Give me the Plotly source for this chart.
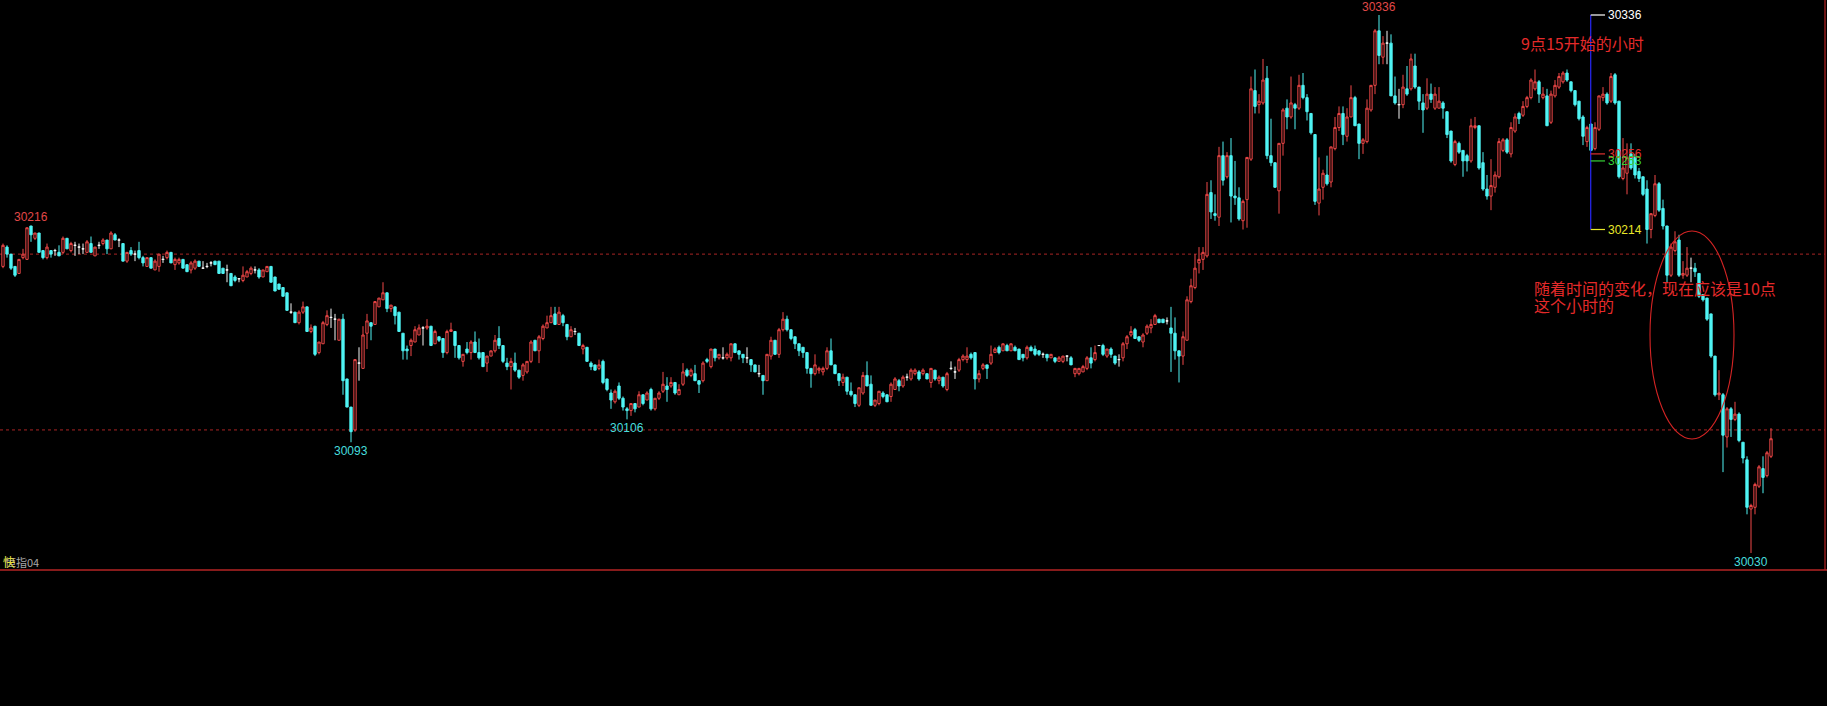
import plotly.graph_objects as go

# ---------------- data ----------------
opens = [
    30193, 30204, 30200, 30193, 30189, 30198, 30197, 30216, 30209, 30212,
    30202, 30198, 30202, 30202, 30201, 30201, 30209, 30202, 30205, 30204,
    30203, 30201, 30206, 30199, 30205, 30206, 30208, 30203, 30211, 30208,
    30206, 30196, 30202, 30200, 30202, 30198, 30193, 30198, 30191, 30193,
    30197, 30198, 30201, 30194, 30195, 30197, 30194, 30191, 30192, 30196,
    30192, 30193, 30195, 30196, 30196, 30192, 30191, 30189, 30187, 30186,
    30185, 30187, 30189, 30191, 30191, 30187, 30190, 30193, 30187, 30183,
    30181, 30178, 30167, 30167, 30161, 30167, 30170, 30156, 30159, 30144,
    30149, 30160, 30164, 30163, 30151, 30163, 30129, 30113, 30100, 30138,
    30135, 30155, 30161, 30160, 30170, 30174, 30178, 30169, 30170, 30167,
    30155, 30146, 30148, 30150, 30154, 30158, 30158, 30159, 30149, 30153,
    30152, 30144, 30156, 30156, 30148, 30139, 30146, 30144, 30150, 30144,
    30144, 30138, 30142, 30145, 30152, 30148, 30138, 30136, 30138, 30134,
    30131, 30133, 30139, 30151, 30145, 30152, 30158, 30161, 30166, 30160,
    30165, 30160, 30153, 30156, 30155, 30146, 30147, 30138, 30137, 30135,
    30139, 30129, 30121, 30116, 30125, 30118, 30112, 30111, 30115, 30113,
    30120, 30117, 30123, 30112, 30118, 30122, 30125, 30125, 30127, 30120,
    30126, 30134, 30131, 30132, 30128, 30128, 30140, 30136, 30146, 30141,
    30141, 30141, 30141, 30149, 30145, 30143, 30141, 30140, 30137, 30132,
    30131, 30128, 30142, 30151, 30143, 30157, 30163, 30157, 30153, 30149,
    30147, 30144, 30135, 30132, 30134, 30133, 30135, 30145, 30137, 30132,
    30127, 30130, 30122, 30120, 30114, 30121, 30131, 30126, 30114, 30115,
    30121, 30120, 30119, 30123, 30128, 30125, 30130, 30129, 30132, 30133,
    30132, 30132, 30127, 30134, 30128, 30130, 30123, 30135, 30133, 30134,
    30140, 30140, 30143, 30144, 30129, 30135, 30137, 30138, 30144, 30147,
    30145, 30148, 30145, 30147, 30146, 30143, 30141, 30147, 30146, 30145,
    30143, 30143, 30141, 30141, 30139, 30139, 30142, 30141, 30132, 30132,
    30133, 30135, 30141, 30140, 30148, 30148, 30142, 30146, 30142, 30140,
    30141, 30149, 30154, 30157, 30153, 30150, 30155, 30158, 30160, 30163,
    30163, 30162, 30158, 30155, 30145, 30142, 30151, 30173, 30181, 30195,
    30197, 30199, 30235, 30223, 30221, 30256, 30244, 30256, 30233, 30232,
    30219, 30231, 30254, 30293, 30285, 30286, 30300, 30256, 30252, 30236,
    30263, 30283, 30278, 30285, 30283, 30296, 30289, 30280, 30268, 30229,
    30238, 30245, 30241, 30260, 30272, 30280, 30267, 30278, 30289, 30274,
    30263, 30264, 30282, 30296, 30327, 30312, 30320, 30320, 30290, 30285,
    30285, 30294, 30294, 30307, 30295, 30286, 30283, 30291, 30283, 30283,
    30286, 30281, 30270, 30251, 30263, 30259, 30256, 30253, 30272, 30273,
    30252, 30237, 30233, 30238, 30244, 30259, 30265, 30257, 30270, 30280,
    30279, 30284, 30289, 30294, 30298, 30289, 30290, 30275, 30290, 30295,
    30298, 30303, 30298, 30293, 30287, 30278, 30264, 30274, 30260, 30271,
    30289, 30291, 30287, 30302, 30287, 30243, 30246, 30257, 30255, 30247,
    30244, 30237, 30214, 30222, 30240, 30226, 30216, 30188, 30202, 30208,
    30188, 30188, 30192, 30192, 30189, 30177, 30175, 30166, 30142, 30120,
    30120, 30096, 30112, 30106, 30109, 30093, 30083, 30055, 30056, 30068,
    30078, 30074, 30085,
]
highs = [
    30206, 30205, 30200, 30193, 30197, 30203, 30215, 30216, 30212, 30212,
    30202, 30206, 30202, 30203, 30205, 30210, 30209, 30207, 30207, 30206,
    30206, 30208, 30210, 30204, 30207, 30209, 30208, 30213, 30212, 30209,
    30206, 30201, 30204, 30202, 30207, 30199, 30198, 30198, 30197, 30200,
    30199, 30202, 30201, 30198, 30198, 30197, 30194, 30196, 30197, 30196,
    30196, 30195, 30196, 30196, 30196, 30192, 30194, 30189, 30188, 30186,
    30193, 30191, 30193, 30193, 30192, 30191, 30193, 30193, 30187, 30183,
    30181, 30178, 30172, 30167, 30168, 30173, 30170, 30160, 30159, 30150,
    30162, 30168, 30169, 30166, 30163, 30166, 30129, 30113, 30140, 30147,
    30159, 30166, 30161, 30173, 30175, 30184, 30178, 30171, 30170, 30167,
    30155, 30148, 30152, 30159, 30160, 30159, 30163, 30159, 30157, 30153,
    30152, 30157, 30161, 30156, 30148, 30143, 30150, 30151, 30156, 30152,
    30144, 30142, 30145, 30154, 30159, 30148, 30141, 30141, 30144, 30134,
    30138, 30139, 30151, 30151, 30154, 30160, 30165, 30170, 30170, 30170,
    30166, 30160, 30159, 30158, 30155, 30149, 30147, 30139, 30137, 30140,
    30140, 30129, 30123, 30123, 30127, 30119, 30113, 30115, 30115, 30122,
    30120, 30122, 30124, 30118, 30122, 30133, 30130, 30130, 30127, 30126,
    30138, 30135, 30135, 30137, 30128, 30139, 30141, 30146, 30146, 30143,
    30147, 30144, 30149, 30149, 30145, 30143, 30147, 30140, 30137, 30137,
    30131, 30143, 30153, 30151, 30158, 30167, 30165, 30157, 30153, 30149,
    30147, 30144, 30135, 30143, 30136, 30136, 30147, 30152, 30137, 30132,
    30132, 30130, 30127, 30120, 30124, 30133, 30139, 30131, 30117, 30122,
    30122, 30120, 30127, 30130, 30129, 30131, 30132, 30135, 30135, 30134,
    30135, 30132, 30135, 30134, 30131, 30130, 30133, 30139, 30136, 30141,
    30143, 30147, 30144, 30144, 30134, 30138, 30137, 30148, 30147, 30148,
    30149, 30149, 30149, 30148, 30146, 30143, 30148, 30148, 30148, 30145,
    30144, 30143, 30143, 30141, 30142, 30142, 30142, 30142, 30135, 30135,
    30137, 30142, 30147, 30148, 30148, 30149, 30146, 30147, 30142, 30143,
    30150, 30154, 30159, 30158, 30153, 30155, 30160, 30163, 30166, 30163,
    30163, 30164, 30170, 30164, 30145, 30156, 30176, 30186, 30200, 30204,
    30204, 30241, 30242, 30234, 30261, 30264, 30258, 30266, 30253, 30238,
    30231, 30255, 30301, 30305, 30291, 30311, 30307, 30277, 30252, 30263,
    30283, 30288, 30301, 30286, 30302, 30303, 30291, 30280, 30268, 30255,
    30248, 30256, 30261, 30278, 30284, 30284, 30283, 30296, 30290, 30274,
    30266, 30288, 30296, 30328, 30336, 30324, 30327, 30325, 30301, 30294,
    30302, 30307, 30314, 30314, 30295, 30291, 30300, 30297, 30295, 30295,
    30287, 30281, 30270, 30265, 30264, 30259, 30257, 30277, 30278, 30273,
    30258, 30245, 30254, 30247, 30266, 30266, 30266, 30275, 30280, 30281,
    30287, 30290, 30300, 30305, 30299, 30295, 30294, 30293, 30299, 30303,
    30304, 30305, 30298, 30293, 30287, 30279, 30273, 30274, 30275, 30290,
    30295, 30292, 30303, 30303, 30287, 30266, 30263, 30263, 30257, 30249,
    30244, 30242, 30223, 30245, 30241, 30231, 30216, 30206, 30213, 30211,
    30196, 30204, 30198, 30195, 30189, 30177, 30175, 30166, 30142, 30134,
    30121, 30113, 30113, 30116, 30110, 30093, 30085, 30058, 30070, 30080,
    30085, 30088, 30101,
]
lows = [
    30192, 30198, 30191, 30187, 30189, 30197, 30197, 30207, 30208, 30201,
    30197, 30197, 30198, 30199, 30199, 30200, 30203, 30201, 30199, 30200,
    30200, 30201, 30201, 30199, 30203, 30205, 30200, 30203, 30208, 30204,
    30196, 30195, 30199, 30196, 30197, 30193, 30193, 30192, 30191, 30190,
    30195, 30197, 30195, 30191, 30194, 30192, 30190, 30189, 30191, 30193,
    30192, 30192, 30193, 30194, 30189, 30189, 30184, 30182, 30184, 30184,
    30184, 30187, 30188, 30189, 30186, 30187, 30190, 30184, 30179, 30180,
    30176, 30168, 30166, 30161, 30160, 30166, 30156, 30155, 30142, 30143,
    30149, 30159, 30158, 30151, 30151, 30120, 30113, 30093, 30099, 30128,
    30135, 30146, 30151, 30160, 30170, 30174, 30167, 30167, 30160, 30156,
    30140, 30140, 30142, 30150, 30154, 30148, 30157, 30148, 30149, 30150,
    30141, 30143, 30156, 30141, 30140, 30136, 30143, 30140, 30144, 30140,
    30136, 30133, 30142, 30144, 30146, 30138, 30134, 30123, 30133, 30129,
    30128, 30132, 30138, 30145, 30138, 30151, 30158, 30161, 30160, 30160,
    30159, 30151, 30153, 30154, 30148, 30143, 30139, 30134, 30134, 30134,
    30126, 30122, 30112, 30115, 30117, 30111, 30106, 30108, 30110, 30113,
    30114, 30117, 30111, 30111, 30117, 30121, 30116, 30124, 30120, 30120,
    30125, 30130, 30130, 30128, 30121, 30127, 30138, 30135, 30139, 30140,
    30140, 30140, 30139, 30144, 30140, 30138, 30138, 30133, 30133, 30130,
    30120, 30128, 30140, 30143, 30141, 30156, 30156, 30151, 30146, 30142,
    30141, 30132, 30124, 30131, 30132, 30131, 30134, 30137, 30132, 30125,
    30125, 30120, 30119, 30113, 30113, 30120, 30125, 30114, 30113, 30114,
    30118, 30116, 30116, 30123, 30122, 30124, 30128, 30128, 30131, 30128,
    30131, 30129, 30124, 30128, 30126, 30124, 30122, 30134, 30129, 30133,
    30139, 30138, 30140, 30123, 30127, 30134, 30129, 30137, 30144, 30143,
    30145, 30145, 30145, 30145, 30140, 30139, 30140, 30145, 30142, 30142,
    30141, 30139, 30141, 30138, 30139, 30138, 30139, 30137, 30130, 30131,
    30133, 30134, 30135, 30139, 30148, 30142, 30141, 30141, 30137, 30136,
    30139, 30146, 30153, 30152, 30150, 30147, 30154, 30155, 30160, 30161,
    30161, 30160, 30133, 30140, 30127, 30137, 30151, 30172, 30180, 30189,
    30191, 30198, 30220, 30219, 30216, 30239, 30243, 30218, 30228, 30219,
    30214, 30215, 30253, 30280, 30280, 30285, 30254, 30250, 30238, 30223,
    30256, 30271, 30277, 30271, 30282, 30288, 30276, 30268, 30228, 30222,
    30231, 30239, 30238, 30259, 30270, 30262, 30264, 30278, 30273, 30254,
    30257, 30263, 30281, 30291, 30308, 30308, 30308, 30290, 30285, 30277,
    30283, 30290, 30293, 30294, 30282, 30269, 30282, 30286, 30282, 30283,
    30277, 30266, 30252, 30250, 30257, 30244, 30247, 30252, 30271, 30248,
    30236, 30231, 30225, 30235, 30243, 30258, 30257, 30255, 30269, 30274,
    30278, 30283, 30288, 30293, 30286, 30288, 30273, 30274, 30289, 30294,
    30297, 30298, 30292, 30284, 30276, 30262, 30261, 30259, 30259, 30270,
    30287, 30285, 30286, 30285, 30243, 30242, 30234, 30248, 30243, 30241,
    30233, 30206, 30209, 30221, 30224, 30214, 30184, 30187, 30201, 30187,
    30186, 30187, 30184, 30187, 30175, 30173, 30162, 30141, 30119, 30117,
    30076, 30090, 30096, 30105, 30093, 30081, 30052, 30030, 30052, 30067,
    30064, 30073, 30084,
]
closes = [
    30205, 30200, 30192, 30188, 30197, 30200, 30215, 30211, 30212, 30201,
    30198, 30204, 30200, 30202, 30199, 30209, 30203, 30206, 30205, 30204,
    30203, 30207, 30201, 30204, 30205, 30208, 30203, 30212, 30208, 30208,
    30196, 30201, 30200, 30200, 30198, 30195, 30198, 30192, 30196, 30200,
    30197, 30201, 30195, 30197, 30197, 30192, 30190, 30195, 30196, 30193,
    30192, 30193, 30195, 30194, 30189, 30189, 30191, 30182, 30185, 30186,
    30188, 30190, 30192, 30191, 30187, 30191, 30193, 30184, 30179, 30180,
    30176, 30168, 30167, 30161, 30167, 30170, 30156, 30158, 30143, 30150,
    30161, 30165, 30164, 30163, 30163, 30128, 30113, 30099, 30140, 30138,
    30154, 30162, 30159, 30173, 30175, 30178, 30169, 30171, 30165, 30156,
    30145, 30145, 30151, 30157, 30158, 30158, 30159, 30148, 30156, 30151,
    30144, 30156, 30157, 30148, 30141, 30143, 30144, 30150, 30144, 30141,
    30136, 30142, 30145, 30151, 30148, 30139, 30136, 30139, 30134, 30130,
    30137, 30139, 30150, 30145, 30153, 30159, 30161, 30165, 30160, 30167,
    30161, 30153, 30157, 30156, 30148, 30148, 30139, 30136, 30134, 30137,
    30127, 30123, 30117, 30122, 30118, 30113, 30111, 30115, 30112, 30120,
    30115, 30121, 30112, 30118, 30121, 30126, 30123, 30127, 30121, 30123,
    30133, 30131, 30134, 30128, 30126, 30138, 30139, 30146, 30141, 30143,
    30141, 30143, 30149, 30144, 30143, 30141, 30141, 30137, 30133, 30132,
    30128, 30143, 30151, 30143, 30157, 30163, 30157, 30152, 30149, 30145,
    30144, 30135, 30132, 30137, 30135, 30135, 30145, 30137, 30132, 30128,
    30130, 30122, 30120, 30115, 30124, 30131, 30125, 30114, 30117, 30122,
    30119, 30116, 30126, 30129, 30125, 30130, 30130, 30134, 30134, 30129,
    30134, 30129, 30135, 30129, 30130, 30125, 30132, 30135, 30133, 30140,
    30142, 30142, 30141, 30129, 30132, 30137, 30135, 30143, 30146, 30144,
    30149, 30145, 30149, 30145, 30140, 30141, 30147, 30145, 30143, 30143,
    30143, 30141, 30143, 30139, 30141, 30142, 30142, 30137, 30135, 30135,
    30136, 30141, 30138, 30144, 30148, 30143, 30146, 30143, 30138, 30140,
    30149, 30153, 30156, 30152, 30151, 30154, 30159, 30160, 30165, 30161,
    30161, 30162, 30155, 30145, 30142, 30153, 30174, 30182, 30192, 30197,
    30201, 30234, 30224, 30222, 30256, 30242, 30256, 30233, 30232, 30220,
    30230, 30255, 30294, 30284, 30287, 30299, 30256, 30252, 30238, 30263,
    30282, 30278, 30286, 30283, 30296, 30289, 30281, 30269, 30230, 30237,
    30246, 30240, 30261, 30272, 30280, 30268, 30278, 30289, 30273, 30263,
    30265, 30283, 30296, 30327, 30313, 30320, 30320, 30290, 30286, 30285,
    30295, 30291, 30311, 30295, 30287, 30282, 30291, 30288, 30291, 30287,
    30283, 30268, 30253, 30264, 30258, 30253, 30253, 30273, 30273, 30249,
    30237, 30233, 30239, 30245, 30264, 30265, 30258, 30272, 30278, 30277,
    30284, 30289, 30299, 30298, 30291, 30291, 30273, 30291, 30296, 30301,
    30303, 30299, 30293, 30285, 30277, 30267, 30272, 30259, 30272, 30290,
    30291, 30286, 30301, 30286, 30244, 30249, 30255, 30249, 30245, 30243,
    30234, 30214, 30223, 30240, 30225, 30216, 30188, 30204, 30207, 30188,
    30189, 30192, 30192, 30190, 30176, 30174, 30163, 30142, 30120, 30121,
    30097, 30112, 30106, 30109, 30094, 30084, 30056, 30057, 30069, 30079,
    30073, 30087, 30095,
]

grid_levels = [30200, 30100]
tool_levels = [30336, 30257, 30253, 30214]
tool_labels = ["30336", "30256", "30253", "30214"]
note_top = "9点15开始的小时"
note_lines = ["随着时间的变化，现在应该是10点", "这个小时的"]
corner_label = "恒指04"

# ---------------- geometry / style ----------------
W, H = 1827, 706
PLOT_H = 570
PX_PER_PT = 538 / 306.0
Y_TOP = 30336 + 15 / PX_PER_PT
Y_BOT = 30336 - (PLOT_H - 15) / PX_PER_PT

UP = "#f04848"
DN = "#50f4f4"
DOJI = "#f4f4f4"
GRID = "#a82424"
FRAME = "#b42424"
TXT_RED = "#e42a2a"
NUM_FONT = "Liberation Sans, Arial, sans-serif"
CJK_FONT = "Noto Sans CJK SC, sans-serif"


def px(x):
    return x / W


def py(y):
    return (PLOT_H - y) / PLOT_H


n = len(opens)
idx_all = list(range(n))
groups = [
    ([i for i in idx_all if closes[i] > opens[i]], UP, "#000000"),
    ([i for i in idx_all if closes[i] < opens[i]], DN, DN),
    ([i for i in idx_all if closes[i] == opens[i]], DOJI, DOJI),
]

fig = go.Figure()
for idx, col, fill in groups:
    fig.add_trace(go.Candlestick(
        x=idx,
        open=[opens[i] for i in idx],
        high=[highs[i] for i in idx],
        low=[lows[i] for i in idx],
        close=[closes[i] for i in idx],
        increasing=dict(line=dict(color=col, width=1), fillcolor=fill),
        decreasing=dict(line=dict(color=col, width=1), fillcolor=fill),
        whiskerwidth=0,
        showlegend=False,
        hoverinfo="skip",
    ))

shapes = []
for lv in grid_levels:
    shapes.append(dict(type="line", xref="paper", yref="y", x0=0, x1=px(1825),
                       y0=lv, y1=lv, line=dict(color=GRID, width=1, dash="dot"),
                       layer="below"))
shapes.append(dict(type="line", xref="paper", yref="paper", x0=0, x1=1, y0=0, y1=0,
                   line=dict(color=FRAME, width=1.5)))
shapes.append(dict(type="line", xref="paper", yref="paper", x0=px(1825), x1=px(1825),
                   y0=0, y1=1, line=dict(color=FRAME, width=1.2)))

# measuring tool
tool_x = px(1590.7)
shapes.append(dict(type="line", xref="paper", yref="y", x0=tool_x, x1=tool_x,
                   y0=tool_levels[0], y1=tool_levels[-1],
                   line=dict(color="#2424e6", width=1.3)))
tool_colors = ["#ffffff", "#e03030", "#36d236", "#e8e82a"]
annotations = []
for lv, lab, col in zip(tool_levels, tool_labels, tool_colors):
    shapes.append(dict(type="line", xref="paper", yref="y", x0=tool_x, x1=px(1605),
                       y0=lv, y1=lv, line=dict(color=col, width=1.2)))
    annotations.append(dict(xref="paper", yref="y", x=px(1605.5), y=lv, text=lab,
                            showarrow=False, xanchor="left", yanchor="middle",
                            font=dict(family=NUM_FONT, size=12, color=col)))

# ellipse
shapes.append(dict(type="circle", xref="paper", yref="paper",
                   x0=px(1650), x1=px(1734), y0=py(439), y1=py(231),
                   line=dict(color="#d42424", width=1.1)))


# extreme labels
def lab_high(i0, i1, col):
    i = max(range(i0, i1), key=lambda k: highs[k])
    annotations.append(dict(xref="x", yref="y", x=i, y=highs[i], text=str(highs[i]),
                            showarrow=False, xanchor="center", yanchor="middle",
                            yshift=8.5, font=dict(family=NUM_FONT, size=12, color=col)))


def lab_low(i0, i1, col):
    i = min(range(i0, i1), key=lambda k: lows[k])
    annotations.append(dict(xref="x", yref="y", x=i, y=lows[i], text=str(lows[i]),
                            showarrow=False, xanchor="center", yanchor="middle",
                            yshift=-8.5, font=dict(family=NUM_FONT, size=12, color=col)))


lab_high(0, 60, "#e04848")
lab_low(60, 120, "#46dede")
lab_low(120, 200, "#46dede")
lab_high(0, n, "#e04848")
lab_low(0, n, "#46dede")

annotations.append(dict(xref="paper", yref="paper", x=px(1519), y=py(43), text=note_top,
                        showarrow=False, xanchor="left", yanchor="middle",
                        font=dict(family=CJK_FONT, size=16, color=TXT_RED)))
for k, line in enumerate(note_lines):
    annotations.append(dict(xref="paper", yref="paper", x=px(1532), y=py(288 + 17 * k),
                            text=line, showarrow=False, xanchor="left", yanchor="middle",
                            font=dict(family=CJK_FONT, size=16, color=TXT_RED)))

annotations.append(dict(xref="paper", yref="paper", x=px(3), y=py(562), text=corner_label,
                        showarrow=False, xanchor="left", yanchor="middle",
                        font=dict(family=CJK_FONT, size=11, color="#a8a8a8")))
annotations.append(dict(xref="paper", yref="paper", x=px(1), y=py(561), text="快",
                        showarrow=False, xanchor="left", yanchor="middle",
                        font=dict(family=CJK_FONT, size=12, color="#e6e040")))

fig.update_layout(
    width=W, height=H,
    margin=dict(l=0, r=0, t=0, b=H - PLOT_H, pad=0),
    paper_bgcolor="#000000", plot_bgcolor="#000000",
    showlegend=False,
    boxgap=0.3, boxgroupgap=0.18,
    xaxis=dict(range=[-0.75, (W - 3) / 4.0], visible=False, showgrid=False,
               zeroline=False, rangeslider=dict(visible=False)),
    yaxis=dict(range=[Y_BOT, Y_TOP], visible=False, showgrid=False, zeroline=False),
    shapes=shapes,
    annotations=annotations,
)

fig.write_html("out.html", include_plotlyjs=True, config={"displayModeBar": False},
               post_script="document.body.style.margin='0';document.body.style.overflow='hidden';")
